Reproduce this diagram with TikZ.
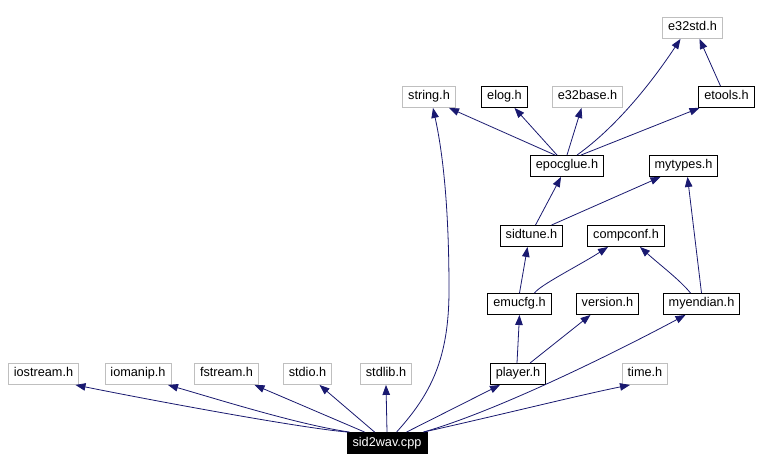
\documentclass[tikz,border=0pt]{standalone}
\usepackage{fontspec}
\newfontfamily\graphfont{Liberation Sans}
\usetikzlibrary{arrows.meta}
\definecolor{edgeblue}{HTML}{191970}
\definecolor{extgray}{HTML}{BFBFBF}

\begin{document}
\begin{tikzpicture}[
  x=1pt, y=-1pt,
  font=\graphfont\fontsize{12.7}{14}\selectfont,
  hdr/.style={
    draw=black, line width=0.9pt, fill=white,
    inner xsep=5.5pt, inner ysep=4.5pt, text height=9pt, text depth=3pt
  },
  syshdr/.style={hdr, draw=extgray},
  root/.style={hdr, fill=black, text=white},
  dep/.style={
    -{Triangle[length=10pt, width=7.5pt]},
    draw=edgeblue, line width=0.8pt
  }
]
\useasboundingbox[fill=white] (0,0) rectangle (758,470);

% ----- rangée du haut -----
\node[syshdr] (e32std)   at (692.5, 28)  {e32std.h};
\node[syshdr] (string)   at (429, 97)    {string.h};
\node[hdr]    (elog)     at (504.5, 97)  {elog.h};
\node[syshdr] (e32base)  at (587.5, 97)  {e32base.h};
\node[hdr]    (etools)   at (726.5, 97)  {etools.h};

% ----- couches intermédiaires -----
\node[hdr] (epocglue) at (567, 166)   {epocglue.h};
\node[hdr] (mytypes)  at (683.5, 166) {mytypes.h};
\node[hdr] (sidtune)  at (531.5, 236) {sidtune.h};
\node[hdr] (compconf) at (626, 236)   {compconf.h};
\node[hdr] (emucfg)   at (519.5, 304) {emucfg.h};
\node[hdr] (version)  at (607.5, 304) {version.h};
\node[hdr] (myendian) at (701.5, 304) {myendian.h};

% ----- rangée des inclusions directes -----
\node[syshdr] (iostream) at (43.5, 374)  {iostream.h};
\node[syshdr] (iomanip)  at (138, 374)   {iomanip.h};
\node[syshdr] (fstream)  at (226.5, 374) {fstream.h};
\node[syshdr] (stdio)    at (307.5, 374) {stdio.h};
\node[syshdr] (stdlib)   at (386, 374)   {stdlib.h};
\node[hdr]    (player)   at (518, 374)   {player.h};
\node[syshdr] (time)     at (645, 374)   {time.h};

\node[root] (sid2wav) at (387, 443) {sid2wav.cpp};

% ----- dépendances de sid2wav.cpp -----
\draw[dep] ([xshift=1pt]sid2wav.north west) .. controls (300,428) and (150,400) .. ([xshift=32pt]iostream.south);
\draw[dep] ([xshift=3pt]sid2wav.north west) .. controls (300,425) and (220,400) .. ([xshift=30pt]iomanip.south);
\draw[dep] ([xshift=18pt]sid2wav.north west) -- ([xshift=28pt]fstream.south);
\draw[dep] ([xshift=28pt]sid2wav.north west) -- ([xshift=12pt]stdio.south);
\draw[dep] (sid2wav.north) -- (stdlib.south);
\draw[dep] ([xshift=50pt]sid2wav.north west)
  .. controls (430,395) and (449,360) .. (449,290)
  .. controls (449,190) and (440,140) .. ([xshift=4pt]string.south);
\draw[dep] ([xshift=60pt]sid2wav.north west) -- ([xshift=-18pt]player.south);
\draw[dep] ([xshift=77pt]sid2wav.north west) .. controls (500,410) and (620,350) .. ([xshift=-16pt]myendian.south);
\draw[dep] ([xshift=77pt]sid2wav.north west) .. controls (500,415) and (580,395) .. ([xshift=-15pt]time.south);

% ----- dépendances internes -----
\draw[dep] ([xshift=-1pt]player.north) -- (emucfg.south);
\draw[dep] ([xshift=12pt]player.north) -- ([xshift=-17pt]version.south);
\draw[dep] (emucfg.north) -- ([xshift=-4pt]sidtune.south);
\draw[dep] ([xshift=15pt]emucfg.north) .. controls (540,285) and (580,265) .. ([xshift=-18pt]compconf.south);
\draw[dep] ([xshift=-11pt]myendian.north) .. controls (680,280) and (660,265) .. ([xshift=14pt]compconf.south);
\draw[dep] (myendian.north) -- ([xshift=4pt]mytypes.south);
\draw[dep] ([xshift=4pt]sidtune.north) -- ([xshift=-6pt]epocglue.south);
\draw[dep] ([xshift=20pt]sidtune.north) -- ([xshift=-23pt]mytypes.south);
\draw[dep] ([xshift=-12pt]epocglue.north) -- ([xshift=20pt]string.south);
\draw[dep] ([xshift=-10pt]epocglue.north) -- ([xshift=10pt]elog.south);
\draw[dep] (epocglue.north) -- ([xshift=-6pt]e32base.south);
\draw[dep] ([xshift=10pt]epocglue.north) .. controls (615,128) and (650,85) .. ([xshift=-12pt]e32std.south);
\draw[dep] ([xshift=14pt]epocglue.north) -- ([xshift=-27pt]etools.south);
\draw[dep] ([xshift=-6pt]etools.north) -- ([xshift=7pt]e32std.south);

\end{tikzpicture}
\end{document}
